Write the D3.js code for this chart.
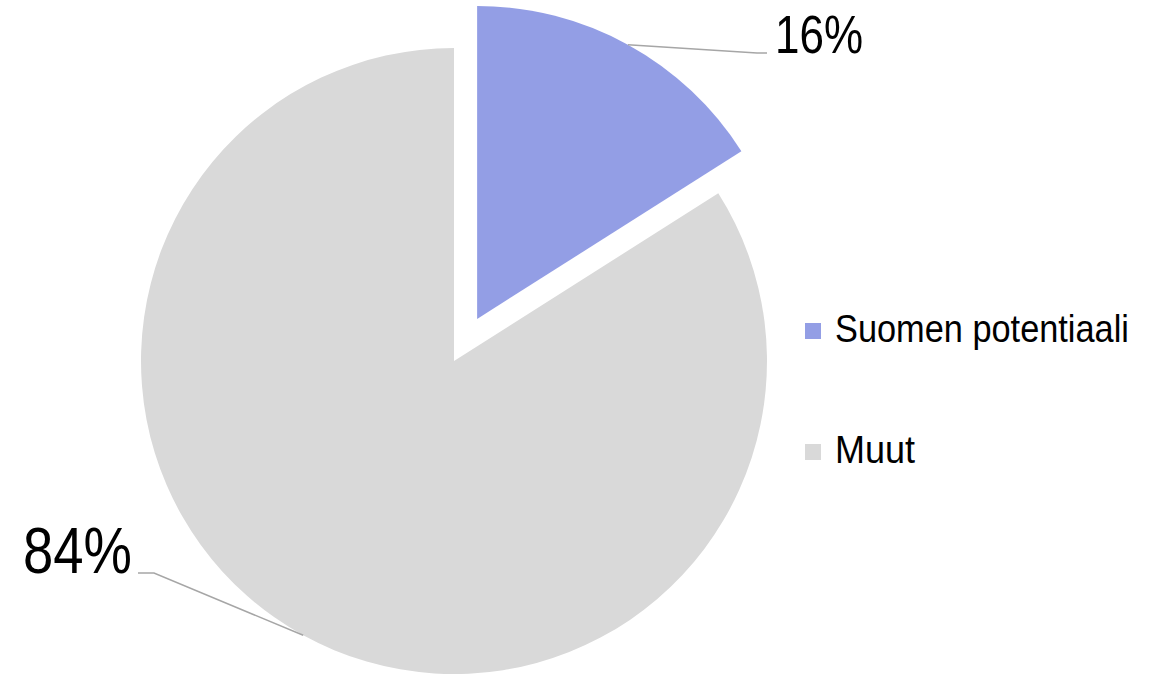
<!DOCTYPE html>
<html>
<head>
<meta charset="utf-8">
<script src="https://cdn.jsdelivr.net/npm/d3@7"></script>
<style>
  html, body { margin: 0; padding: 0; background: #ffffff; }
  svg { display: block; }
  text { font-family: "Liberation Sans Narrow", "Arial Narrow", "Liberation Sans", sans-serif; fill: #000; }
</style>
</head>
<body>
<svg id="chart" width="1158" height="676"></svg>
<script>
// Share of potential: Finland vs. the rest
const categories = ["Suomen potentiaali", "Muut"];
const values = [16, 84];
const colors = ["#939EE5", "#D9D9D9"];
const valueLabels = ["16%", "84%"];

const svg = d3.select("#chart");
const cx = 454, cy = 361, radius = 313;
const explode = [48, 0];

const pie = d3.pie().sort(null).value(d => d)(values);
const arc = d3.arc().innerRadius(0).outerRadius(radius);

const g = svg.append("g").attr("transform", `translate(${cx},${cy})`);

function offsetOf(d, i) {
  const mid = (d.startAngle + d.endAngle) / 2;
  return [Math.sin(mid) * explode[i], -Math.cos(mid) * explode[i]];
}

// Narrow-looking text: draw at the origin, then squeeze horizontally to a set width
function narrowText(parent, str, x, y, size, width, anchor) {
  const t = parent.append("g");
  const txt = t.append("text")
    .attr("x", 0).attr("y", 0)
    .style("font-size", size + "px")
    .text(str);
  const natural = txt.node().getComputedTextLength();
  const k = width / natural;
  const left = anchor === "end" ? x - width : x;
  t.attr("transform", `translate(${left},${y}) scale(${k},1)`);
  return t;
}

g.selectAll("path.slice")
  .data(pie)
  .join("path")
  .attr("class", "slice")
  .attr("d", arc)
  .attr("fill", (d, i) => colors[i])
  .attr("transform", (d, i) => {
    const [ox, oy] = offsetOf(d, i);
    return `translate(${ox},${oy})`;
  });

// Data labels with leader lines from the middle of each slice's rim
const labelPos = [
  { x: 775 - cx, y: 53 - cy, anchor: "start", size: 53, width: 88, elbow: -10 },
  { x: 132 - cx, y: 573 - cy, anchor: "end", size: 64, width: 109, elbow: 16 }
];

pie.forEach((d, i) => {
  const [ox, oy] = offsetOf(d, i);
  const mid = (d.startAngle + d.endAngle) / 2;
  const sx = ox + Math.sin(mid) * radius;
  const sy = oy - Math.cos(mid) * radius;
  const lp = labelPos[i];
  const endX = lp.anchor === "start" ? lp.x - 8 : lp.x + 6;
  g.append("path")
    .attr("d", d3.line()([[sx, sy], [endX + lp.elbow, lp.y], [endX, lp.y]]))
    .attr("fill", "none")
    .attr("stroke", "#A6A6A6")
    .attr("stroke-width", 1.5);
  narrowText(g, valueLabels[i], lp.x, lp.y, lp.size, lp.width, lp.anchor);
});

// Legend
const legend = svg.append("g").attr("transform", "translate(805,0)");
const legendY = [331, 452];
const legendWidths = [294, 80];
categories.forEach((c, i) => {
  legend.append("rect")
    .attr("x", 0).attr("y", legendY[i] - 8)
    .attr("width", 16).attr("height", 16)
    .attr("fill", colors[i]);
  narrowText(legend, c, 30, legendY[i] + 11, 39, legendWidths[i], "start");
});
</script>
</body>
</html>
